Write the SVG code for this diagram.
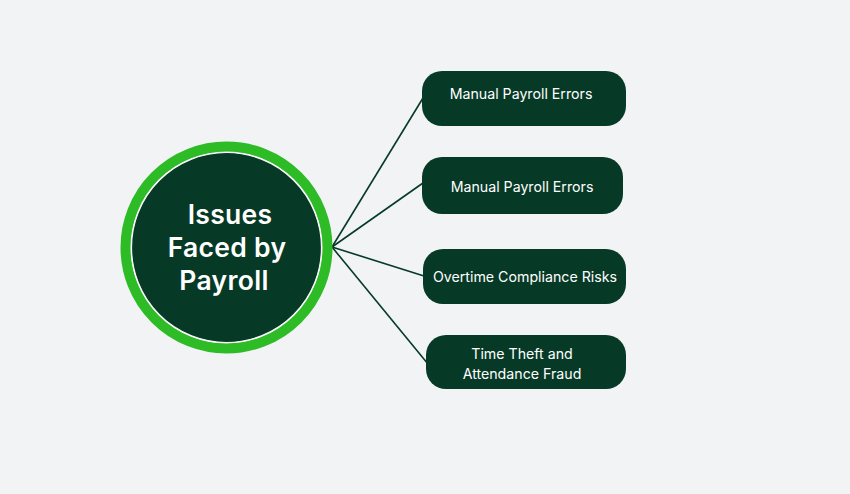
<svg xmlns="http://www.w3.org/2000/svg" width="850" height="494" viewBox="0 0 850 494">
<style>
.box{fill:#063a26}
.t{font-family:Inter,"Open Sans",sans-serif;font-size:14.2px;fill:#ffffff;text-anchor:middle;dominant-baseline:central}
.ht{font-family:Inter,"Open Sans",sans-serif;font-size:26.5px;font-weight:600;fill:#ffffff;text-anchor:middle;dominant-baseline:central;letter-spacing:0.3px}
.c{stroke:#063a26;stroke-width:1.6;fill:none}
</style>
<rect width="850" height="494" fill="#f1f3f4"/>
<g id="connectors">
<line class="c" x1="332" y1="247" x2="423" y2="98"/>
<line class="c" x1="332" y1="247" x2="423" y2="183"/>
<line class="c" x1="332" y1="247" x2="424" y2="276"/>
<line class="c" x1="332" y1="247" x2="428" y2="364"/>
</g>
<g id="center">
<circle cx="226.5" cy="247.5" r="101" fill="none" stroke="#2dbb26" stroke-width="10"/>
<circle cx="226.5" cy="247.5" r="95" fill="#063a26" stroke="#ffffff" stroke-width="1.2"/>
<text class="ht" x="230" y="214">Issues</text>
<text class="ht" x="227" y="247">Faced by</text>
<text class="ht" x="224" y="280">Payroll</text>
</g>
<g id="n1">
<rect class="box" x="422" y="71" width="204" height="55" rx="20"/>
<text class="t" x="521" y="93">Manual Payroll Errors</text>
</g>
<g id="n2">
<rect class="box" x="422" y="157" width="201" height="57" rx="20"/>
<text class="t" x="522" y="186">Manual Payroll Errors</text>
</g>
<g id="n3">
<rect class="box" x="423" y="249" width="203" height="55" rx="20"/>
<text class="t" x="525" y="276">Overtime Compliance Risks</text>
</g>
<g id="n4">
<rect class="box" x="426" y="335" width="200" height="54" rx="20"/>
<text class="t" x="522" y="353">Time Theft and</text>
<text class="t" x="522" y="373">Attendance Fraud</text>
</g>
</svg>
